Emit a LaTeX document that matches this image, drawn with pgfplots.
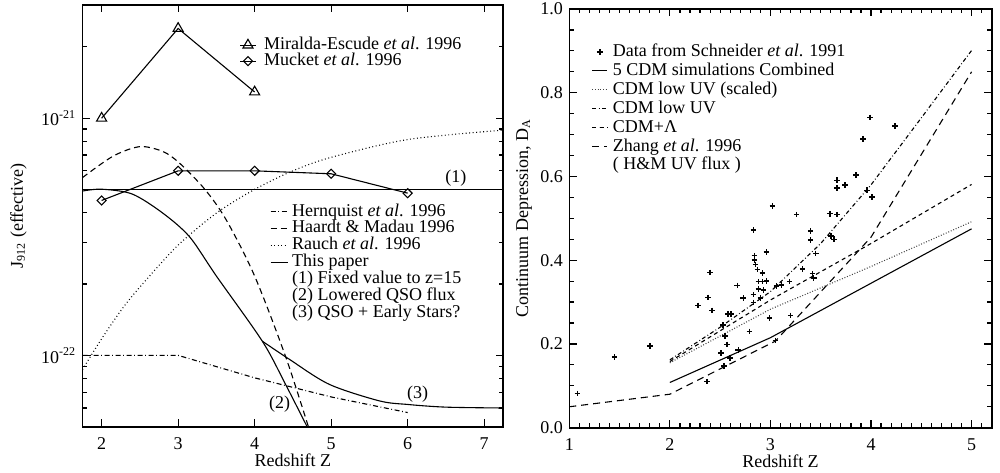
\documentclass[border=0pt]{standalone}
\usepackage{fontspec}
\setmainfont{Liberation Serif}
\usepackage{pgfplots}
\pgfplotsset{compat=1.18}

\pgfplotsset{
  panel/.style={
    scale only axis,
    anchor=south west,
    axis line style={line width=0.8pt},
    tick style={line width=0.6pt, black},
    major tick length=3.7pt,
    minor tick length=2.2pt,
    tick align=inside,
    /pgf/number format/assume math mode=true,
    xlabel={Redshift Z},
    xlabel style={at={(axis description cs:0.5,0)}, anchor=center, yshift=-16.7pt},
    xticklabel style={anchor=base, yshift=-11.2pt},
    legend cell align=left,
    every axis plot/.append style={line width=0.55pt, black},
  },
  shortleg/.style={legend image code/.code={\draw[mark repeat=2,mark phase=2,##1] plot coordinates {(0cm,0cm) (0.1325cm,0cm) (0.265cm,0cm)};}},
  longleg/.style={legend image code/.code={\draw[mark repeat=2,mark phase=2,##1] plot coordinates {(0cm,0cm) (0.15cm,0cm) (0.3cm,0cm)};}},
}

\begin{document}
\fontsize{9pt}{10pt}\selectfont
\begin{tikzpicture}

% ---------------- left panel ----------------
\begin{axis}[panel, at={(41.25pt,22.65pt)}, width=210.4pt, height=210.85pt,
  xmin=1.75, xmax=7.25, ymode=log, ymin=5e-23, ymax=3e-21,
  xtick={2,3,4,5,6,7},
  ytick={1e-22,1e-21}, yticklabels={10\textsuperscript{-22},10\textsuperscript{-21}},
  minor ytick={6e-23,7e-23,8e-23,9e-23,2e-22,3e-22,4e-22,5e-22,6e-22,7e-22,8e-22,9e-22,2e-21},
  ylabel={J\textsubscript{912} (effective)},
  ylabel style={at={(axis description cs:-0.152,0.5)}, anchor=center},
  longleg,
  legend style={draw=none, fill=none, at={(0.4456,0.530)}, anchor=north west,
    inner sep=0pt, outer sep=0pt, row sep=0pt,
    nodes={inner sep=0pt, text height=6.4pt, text depth=2.05pt},
    /tikz/every odd column/.append style={column sep=2pt}},
]
\addplot[dash pattern=on 2.5pt off 1.3pt on 0.4pt off 1.3pt]
  coordinates {(1.75,1e-22)(3,1e-22)(4,8.04e-23)(5,6.68e-23)(6,5.74e-23)};
\addlegendentry{Hernquist \textit{et al}. 1996}
\addplot[smooth, dash pattern=on 3pt off 2pt]
  coordinates {(1.75,5.62e-22)(2.15,6.92e-22)(2.5,7.59e-22)(2.8,7.24e-22)(3.02,6.46e-22)
               (3.35,5.01e-22)(3.63,3.72e-22)(4.0,2.16e-22)(4.41,9.77e-23)(4.75,4.47e-23)};
\addlegendentry{Haardt \& Madau 1996}
\addplot[smooth, dash pattern=on 0.45pt off 1.3pt]
  coordinates {(1.75,8.71e-23)(2.0,1.175e-22)(2.3,1.622e-22)(2.6,2.113e-22)(3.0,2.917e-22)
               (3.5,3.98e-22)(4.0,5.01e-22)(4.5,6.0e-22)(5.0,6.84e-22)(6.0,8.13e-22)(7.25,8.91e-22)};
\addlegendentry{Rauch \textit{et al}. 1996}
\addplot[smooth]
  coordinates {(1.75,4.93e-22)(2.0,5.02e-22)(2.4,4.79e-22)(2.8,3.98e-22)(3.15,3.16e-22)
               (3.5,2.16e-22)(4.1,1.148e-22)(4.4,7.59e-23)(4.7,4.90e-23)};
\addlegendentry{This paper}
\addplot[forget plot] coordinates {(1.75,5e-22)(7.25,5e-22)};
\addplot[smooth, forget plot]
  coordinates {(4.1,1.148e-22)(4.455,9.62e-23)(4.975,7.55e-23)(5.63,6.43e-23)
               (6.0,6.21e-23)(6.5,6.05e-23)(7.25,6.0e-23)};
\addlegendimage{empty legend}
\addlegendentry{(1) Fixed value to z=15}
\addlegendimage{empty legend}
\addlegendentry{(2) Lowered QSO flux}
\addlegendimage{empty legend}
\addlegendentry{(3) QSO + Early Stars?}
\node at (axis cs:6.63,5.6e-22) {(1)};
\node at (axis cs:4.325,6.2e-23) {(2)};
\node at (axis cs:6.13,6.86e-23) {(3)};
\end{axis}

% overlay with the symbol series and their legend
\begin{axis}[panel, hide axis, at={(41.25pt,22.65pt)}, width=210.4pt, height=210.85pt,
  xmin=1.75, xmax=7.25, ymode=log, ymin=5e-23, ymax=3e-21,
  xlabel={},
  shortleg,
  legend style={draw=none, fill=none, at={(0.374,0.924)}, anchor=north west,
    inner sep=0pt, outer sep=0pt, row sep=0pt,
    nodes={inner sep=0pt, text height=6.2pt, text depth=1.8pt},
    /tikz/every odd column/.append style={column sep=4pt}},
]
\addplot[mark=triangle, mark size=2.9pt, mark options={solid}]
  coordinates {(2,1e-21)(3,2.39e-21)(4,1.29e-21)};
\addlegendentry{Miralda-Escude \textit{et al}. 1996}
\addplot[mark=square, mark size=1.6pt, mark options={solid, rotate=45}]
  coordinates {(2,4.5e-22)(3,6.0e-22)(4,6.0e-22)(5,5.83e-22)(6,4.83e-22)};
\addlegendentry{Mucket \textit{et al}. 1996}
\end{axis}

% ---------------- right panel ----------------
\begin{axis}[panel, at={(284.65pt,22.15pt)}, width=211.2pt, height=209.35pt,
  xmin=1, xmax=5.2, ymin=0, ymax=1,
  xtick={1,2,3,4,5}, minor xtick={1.1,1.2,...,5.15},
  ytick={0,0.2,0.4,0.6,0.8,1.0}, minor ytick={0.05,0.1,...,0.98},
  yticklabel style={/pgf/number format/.cd, fixed, fixed zerofill, precision=1},
  ylabel={Continuum Depression, D\textsubscript{A}},
  ylabel style={at={(axis description cs:-0.107,0.5)}, anchor=center},
  shortleg,
  legend style={draw=none, fill=none, at={(0.053,0.92)}, anchor=north west,
    inner sep=0pt, outer sep=0pt, row sep=0pt,
    nodes={inner sep=0pt, text height=7pt, text depth=2.45pt},
    /tikz/every odd column/.append style={column sep=2.5pt}},
]
\addplot[only marks, mark=+, mark size=1.4pt, mark options={line width=0.75pt}, shortleg]
  coordinates {
  (1.08,0.082)(1.45,0.169)(1.80,0.195)(2.28,0.292)(2.37,0.110)(2.38,0.311)
  (2.40,0.371)(2.42,0.280)(2.51,0.178)(2.53,0.245)(2.54,0.147)(2.55,0.219)
  (2.57,0.199)(2.58,0.271)(2.61,0.271)(2.60,0.167)(2.68,0.185)(2.67,0.340)
  (2.73,0.310)(2.79,0.230)(2.83,0.472)(2.84,0.411)(2.84,0.401)(2.85,0.390)
  (2.87,0.378)(2.83,0.318)(2.83,0.299)(2.88,0.349)(2.92,0.349)(2.96,0.350)
  (2.88,0.331)(2.93,0.329)(2.90,0.310)(2.92,0.369)(2.96,0.420)(2.99,0.262)
  (3.02,0.530)(3.06,0.338)(3.11,0.341)(3.19,0.349)(3.20,0.268)(3.05,0.208)
  (3.26,0.509)(3.32,0.379)(3.40,0.470)(3.40,0.448)(3.42,0.368)(3.43,0.357)
  (3.45,0.416)(3.59,0.511)(3.66,0.509)(3.60,0.458)(3.63,0.450)(3.66,0.591)
  (3.66,0.572)(3.74,0.580)(3.85,0.603)(3.96,0.567)(4.01,0.551)(3.92,0.690)
  (3.99,0.741)(4.24,0.720)};
\addlegendentry{Data from Schneider \textit{et al}. 1991}
\addplot[black] coordinates {(2,0.108)(3,0.215)(4,0.345)(5,0.475)};
\addlegendentry{5 CDM simulations Combined}
\addplot[black!75, dash pattern=on 0.45pt off 0.9pt]
  coordinates {(2,0.155)(3,0.283)(4,0.385)(5,0.492)};
\addlegendentry{CDM low UV (scaled)}
\addplot[dash pattern=on 2pt off 1.2pt on 0.4pt off 1.2pt]
  coordinates {(2,0.162)(2.5,0.24)(3,0.325)(3.5,0.44)(4,0.58)(4.5,0.74)(5,0.901)};
\addlegendentry{CDM low UV}
\addplot[dash pattern=on 2pt off 1.7pt]
  coordinates {(2,0.158)(3,0.305)(4,0.44)(5,0.581)};
\addlegendentry{CDM+Λ}
\addplot[dash pattern=on 3.5pt off 2.5pt]
  coordinates {(1,0.05)(2,0.08)(3.05,0.207)(4,0.455)(5,0.85)};
\addlegendentry{Zhang \textit{et al}. 1996}
\addlegendimage{empty legend}
\addlegendentry{( H\&M UV flux )}
\end{axis}

\pgfresetboundingbox
\path[use as bounding box] (0,0) rectangle (500pt,236pt);
\end{tikzpicture}
\end{document}
